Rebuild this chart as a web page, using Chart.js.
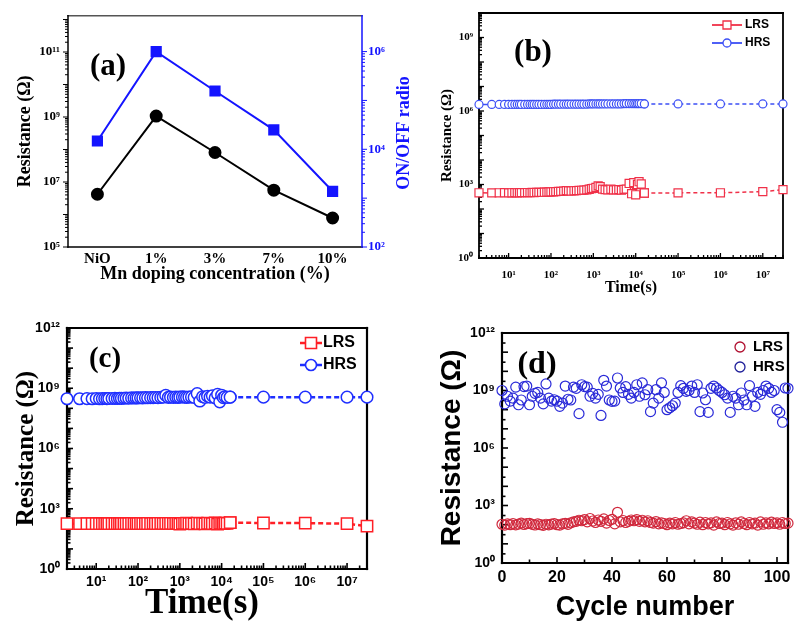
<!DOCTYPE html>
<html><head><meta charset="utf-8">
<script src="https://cdn.jsdelivr.net/npm/chart.js@4.4.1/dist/chart.umd.min.js"></script>
<style>
html,body{margin:0;padding:0;background:#fff;width:797px;height:628px;overflow:hidden;position:relative;}
canvas{position:absolute;}
</style></head><body>
<canvas id="ca" width="420" height="300" style="left:0;top:0"></canvas>
<canvas id="cb" width="377" height="300" style="left:420px;top:0"></canvas>
<canvas id="cc" width="400" height="328" style="left:0;top:300px"></canvas>
<canvas id="cd" width="377" height="328" style="left:420px;top:300px"></canvas>
<script>
// ---------- DATA ----------
// (a)
const concLabels = ['NiO', '1%', '3%', '7%', '10%'];
const resistanceA = [4.2e6, 1.07e9, 8.1e7, 5.6e6, 7.8e5];
const onOffRatioA = [1.48e4, 1.0e6, 1.56e5, 2.5e4, 1.38e3];
const yTicksA = [1e5, 1e7, 1e9, 1e11];
const y1TicksA = [1e2, 1e4, 1e6];

// (b) and (c) retention time (s)
const timeDense = [2,4,6,8,10,12,14,16,18,20,24,28,32,36,40,46,52,60,70,80,90,100,115,130,150,170,200,230,260,300,350,400,460,530,600,700,800,900,1000,1150,1300,1450,1650,1900,2200,2600,3000,3500,4000,4600,5300,6000,7000,8000,9000,10000,11000,12000,13500,16000];
const timeSparse = [16000, 1e5, 1e6, 1e7, 3e7];
const timeTicks = [1e1, 1e2, 1e3, 1e4, 1e5, 1e6, 1e7];

// (b)
const hrsDenseB = [1.85e6,1.85e6,1.85e6,1.85e6,1.85e6,1.85e6,1.85e6,1.85e6,1.85e6,1.85e6,
  1.85e6,1.85e6,1.85e6,1.85e6,1.85e6,1.85e6,1.85e6,1.85e6,1.85e6,1.85e6,
  1.85e6,1.85e6,1.9e6,1.9e6,1.9e6,1.9e6,1.9e6,1.9e6,1.9e6,1.9e6,
  1.9e6,1.9e6,1.9e6,1.9e6,1.9e6,1.9e6,1.95e6,1.95e6,1.95e6,1.95e6,
  1.95e6,1.95e6,1.95e6,1.95e6,1.95e6,1.95e6,1.95e6,1.95e6,1.95e6,1.95e6,
  2.0e6,2.0e6,2.0e6,2.0e6,2.0e6,2.0e6,2.0e6,2.0e6,2.0e6,1.95e6];
const hrsSparseB = [1.95e6, 1.95e6, 1.95e6, 1.95e6, 1.95e6];
const lrsDenseB = [460,455,460,462,458,460,465,460,462,465,
  468,470,465,472,470,475,480,478,485,490,
  495,500,505,510,520,525,540,560,550,545,
  555,560,570,580,590,600,640,680,700,760,
  880,820,650,620,600,640,600,610,620,590,
  630,650,1100,420,1200,380,1000,1300,1050,450];
const lrsSparseB = [450, 455, 460, 510, 620];
const yTicksB = [1, 1e3, 1e6, 1e9];

// (c)
const hrsDenseC = [3.0e8,3.0e8,3.05e8,3.0e8,3.1e8,3.0e8,3.05e8,3.1e8,3.05e8,3.1e8,
  3.1e8,3.15e8,3.1e8,3.2e8,3.15e8,3.2e8,3.25e8,3.2e8,3.3e8,3.25e8,
  3.3e8,3.3e8,3.35e8,3.3e8,3.4e8,3.35e8,3.4e8,3.4e8,3.45e8,3.4e8,
  3.5e8,3.6e8,4.4e8,3.5e8,3.6e8,3.5e8,3.6e8,3.5e8,3.6e8,3.7e8,
  3.6e8,3.5e8,3.6e8,3.7e8,3.5e8,5.4e8,2.3e8,3.8e8,3.5e8,4.0e8,
  3.6e8,4.2e8,3.3e8,5.0e8,2.1e8,4.5e8,3.4e8,3.8e8,3.5e8,3.6e8];
const hrsSparseC = [3.6e8, 3.6e8, 3.6e8, 3.6e8, 3.6e8];
const lrsDenseC = [180,180,182,180,181,180,182,180,181,182,
  182,180,183,181,182,183,181,182,184,182,
  183,182,184,183,182,184,183,185,182,184,
  185,183,186,184,185,183,186,184,170,188,
  185,190,183,186,175,192,184,188,178,190,
  186,182,195,172,190,185,180,192,188,205];
const lrsSparseC = [205, 195, 192, 182, 135];
const yTicksCD = [1, 1e3, 1e6, 1e9, 1e12];

// (d) endurance, cycles 0..104
const hrsD = [1.0e9,2.0e8,5.0e8,2.8e8,4.0e8,1.5e9,1.8e8,3.2e8,1.6e9,1.7e9,
  1.8e8,5.0e8,7.1e8,7.9e8,4.0e8,2.0e8,2.2e9,4.0e8,2.8e8,3.3e8,
  2.8e8,1.5e8,2.2e8,1.7e9,3.5e8,3.2e8,1.5e9,1.3e9,6.2e7,2.0e9,
  1.6e9,1.5e9,5.0e8,7.1e8,4.0e8,6.3e8,5.0e7,3.4e9,1.7e9,3.2e8,
  2.7e8,2.8e8,4.5e9,1.35e9,7.9e8,1.6e9,6.3e8,4.0e8,7.9e8,2.0e9,
  5.0e8,2.5e9,6.0e8,1.1e9,7.9e7,2.2e8,1.1e9,4.0e8,2.5e9,7.9e8,
  1.0e8,1.26e8,1.6e8,2.2e8,7.9e8,1.8e9,1.3e9,9.1e8,1.0e9,1.7e9,
  7.9e8,2.0e9,7.9e7,7.4e8,3.3e8,7.2e7,1.3e9,1.7e9,1.35e9,1.0e9,
  7.9e8,6.0e8,4.0e8,7.2e7,5.0e8,4.0e8,1.8e8,7.4e8,3.2e8,1.8e8,
  1.8e9,5.0e8,1.5e8,7.9e8,6.3e8,1.0e9,1.7e9,1.3e9,7.9e8,1.0e9,
  1.0e8,7.2e7,2.2e7,1.35e9,1.3e9];
const lrsD = [105,95,110,100,115,98,108,120,102,112,
  118,104,96,110,100,92,105,98,108,115,
  100,95,110,118,104,125,140,150,170,160,
  185,140,210,155,130,175,150,200,120,165,
  190,110,440,140,165,130,150,175,160,185,
  150,170,140,160,130,120,145,110,125,115,
  100,120,110,130,105,115,125,160,110,140,
  120,105,135,100,130,110,125,95,140,115,
  120,100,130,110,95,125,105,140,115,100,
  130,110,120,95,140,105,125,110,135,115,
  125,105,130,115,120];
const cycleTicks = [0, 20, 40, 60, 80, 100];

// ---------- HELPERS ----------
Chart.defaults.animation = false;
Chart.defaults.responsive = false;
Chart.defaults.devicePixelRatio = 1;
Chart.defaults.plugins.legend.display = false;
Chart.defaults.plugins.tooltip.enabled = false;
Chart.defaults.color = '#000';

const SUP = {'0':'⁰','1':'¹','2':'²','3':'³','4':'⁴','5':'⁵','6':'⁶','7':'⁷','8':'⁸','9':'⁹','-':'⁻'};
const pow10Label = v => '10' + String(Math.round(Math.log10(v))).split('').map(c => SUP[c]).join('');
const xy = (xs, ys) => xs.map((x, i) => ({x: x, y: ys[i]}));
const setTicks = vals => s => { s.ticks = vals.map(v => ({value: v})); };
function logMarks(minE, maxE) {
  const arr = [];
  for (let e = minE; e < maxE; e++) for (let k = 1; k < 10; k++) arr.push({v: k * Math.pow(10, e), major: k === 1});
  arr.push({v: Math.pow(10, maxE), major: true});
  return arr;
}
const SERIF = 'Liberation Serif', SANS = 'Liberation Sans';
const NOGRID = {display: false, drawTicks: false};

const deco = {
  id: 'deco',
  beforeDatasetsDraw(chart, args, o) {
    const ctx = chart.ctx, a = chart.chartArea;
    ctx.save();
    (o.marks || []).forEach(t => {
      const sc = chart.scales[t.scale];
      ctx.strokeStyle = t.color; ctx.lineWidth = t.width;
      t.values.forEach(tv => {
        const v = tv.v;
        if (v < sc.min - 1e-9 || v > sc.max + 1e-9) return;
        const len = tv.major ? t.major : t.minor;
        const p = sc.getPixelForValue(v);
        ctx.beginPath();
        if (t.side === 'left') { const d = t.inward ? len : -len; ctx.moveTo(a.left, p); ctx.lineTo(a.left + d, p); }
        else if (t.side === 'right') { const d = t.inward ? -len : len; ctx.moveTo(a.right, p); ctx.lineTo(a.right + d, p); }
        else { const d = t.inward ? -len : len; ctx.moveTo(p, a.bottom); ctx.lineTo(p, a.bottom + d); }
        ctx.stroke();
      });
    });
    ctx.lineCap = 'square';
    (o.sides || []).forEach(s => {
      ctx.strokeStyle = s.color; ctx.lineWidth = s.width;
      ctx.beginPath();
      if (s.side === 'left') { ctx.moveTo(a.left, a.top); ctx.lineTo(a.left, a.bottom); }
      if (s.side === 'right') { ctx.moveTo(a.right, a.top); ctx.lineTo(a.right, a.bottom); }
      if (s.side === 'top') { ctx.moveTo(a.left, a.top); ctx.lineTo(a.right, a.top); }
      if (s.side === 'bottom') { ctx.moveTo(a.left, a.bottom); ctx.lineTo(a.right, a.bottom); }
      ctx.stroke();
    });
    ctx.restore();
  },
  afterDatasetsDraw(chart, args, o) {
    const ctx = chart.ctx;
    ctx.save();
    (o.legend || []).forEach(l => {
      ctx.strokeStyle = l.color; ctx.lineWidth = l.lw;
      if (l.lineLen) { ctx.beginPath(); ctx.moveTo(l.x - l.lineLen / 2, l.y); ctx.lineTo(l.x + l.lineLen / 2, l.y); ctx.stroke(); }
      ctx.fillStyle = '#fff';
      ctx.lineWidth = l.mw;
      ctx.beginPath();
      if (l.style === 'rect') { ctx.rect(l.x - l.r, l.y - l.r, 2 * l.r, 2 * l.r); }
      else { ctx.arc(l.x, l.y, l.r, 0, Math.PI * 2); }
      if (l.fill) ctx.fill();
      ctx.stroke();
      ctx.fillStyle = l.textColor; ctx.font = l.font; ctx.textAlign = 'left'; ctx.textBaseline = 'middle';
      ctx.fillText(l.label, l.tx, l.y);
    });
    (o.texts || []).forEach(t => {
      ctx.save();
      ctx.fillStyle = t.color; ctx.font = t.font; ctx.textAlign = 'center'; ctx.textBaseline = 'middle';
      ctx.translate(t.x, t.y); if (t.rot) ctx.rotate(t.rot);
      ctx.fillText(t.text, 0, 0);
      ctx.restore();
    });
    ctx.restore();
  }
};

// ---------- (a) ----------
const blueA = '#1414ff';
new Chart(document.getElementById('ca'), {
  type: 'line',
  data: {
    labels: concLabels,
    datasets: [
      {data: resistanceA, yAxisID: 'y', borderColor: '#000', borderWidth: 2, pointStyle: 'circle', pointRadius: 5.5, pointBackgroundColor: '#000', pointBorderColor: '#000', tension: 0, clip: false},
      {data: onOffRatioA, yAxisID: 'y1', borderColor: blueA, borderWidth: 2, pointStyle: 'rect', pointRadius: 6.5, pointBackgroundColor: blueA, pointBorderColor: blueA, tension: 0, clip: false}
    ]
  },
  options: {
    layout: {padding: {left: 10, top: 10, right: 0, bottom: 0}},
    scales: {
      x: {type: 'category', offset: true, grid: NOGRID, border: {display: false},
        ticks: {font: {family: SERIF, size: 15, weight: 'bold'}, padding: 3},
        title: {display: true, text: 'Mn doping concentration (%)', font: {family: SERIF, size: 18, weight: 'bold'}, padding: {top: 0, bottom: 15}},
        afterFit: s => { s.height = 53; }},
      y: {type: 'logarithmic', position: 'left', min: 1e5, max: 1.3e12, bounds: 'data', grid: NOGRID, border: {display: false},
        afterBuildTicks: setTicks(yTicksA),
        ticks: {autoSkip: false, callback: v => pow10Label(v), font: {family: SERIF, size: 13, weight: 'bold'}, padding: 8},
        title: {display: true, text: 'Resistance (Ω)', font: {family: SERIF, size: 18, weight: 'bold'}, padding: {top: 5, bottom: 0}},
        afterFit: s => { s.width = 58; }},
      y1: {type: 'logarithmic', position: 'right', min: 1e2, max: 5.4e6, bounds: 'data', grid: NOGRID, border: {display: false},
        afterBuildTicks: setTicks(y1TicksA),
        ticks: {autoSkip: false, color: blueA, callback: v => pow10Label(v), font: {family: SERIF, size: 13, weight: 'bold'}, padding: 6},
        afterFit: s => { s.width = 58; }}
    },
    plugins: {
      deco: {
        marks: [
          {scale: 'y', side: 'left', inward: false, values: logMarks(5, 12), major: 5, minor: 3, color: '#000', width: 1},
          {scale: 'y1', side: 'right', inward: false, values: logMarks(2, 6), major: 5, minor: 3, color: blueA, width: 1}
        ],
        sides: [
          {side: 'top', color: '#555', width: 1.5},
          {side: 'left', color: '#000', width: 1.5},
          {side: 'bottom', color: '#000', width: 1.5},
          {side: 'right', color: blueA, width: 1.5}
        ],
        texts: [
          {text: '(a)', x: 108, y: 67, font: 'bold 31px "Liberation Serif"', color: '#000'},
          {text: 'ON/OFF radio', x: 404, y: 133, rot: -Math.PI / 2, font: 'bold 18px "Liberation Serif"', color: blueA}
        ]
      }
    }
  },
  plugins: [deco]
});

// ---------- (b) ----------
const redB = '#f03048', blueB = '#3c4ff5';
new Chart(document.getElementById('cb'), {
  type: 'line',
  data: {
    datasets: [
      {data: xy(timeDense, hrsDenseB), borderColor: blueB, borderWidth: 1.5, pointStyle: 'circle', pointRadius: 4, pointBorderWidth: 1.2, pointBackgroundColor: '#fff', pointBorderColor: blueB, tension: 0, clip: false},
      {data: xy(timeSparse, hrsSparseB), borderColor: blueB, borderWidth: 1.5, borderDash: [4, 3], pointStyle: 'circle', pointRadius: 4, pointBorderWidth: 1.2, pointBackgroundColor: '#fff', pointBorderColor: blueB, tension: 0, clip: false},
      {data: xy(timeDense, lrsDenseB), borderColor: redB, borderWidth: 1.5, pointStyle: 'rect', pointRadius: 5.7, pointBorderWidth: 1.2, pointBackgroundColor: '#fff', pointBorderColor: redB, tension: 0, clip: false},
      {data: xy(timeSparse, lrsSparseB), borderColor: redB, borderWidth: 1.5, borderDash: [4, 3], pointStyle: 'rect', pointRadius: 5.7, pointBorderWidth: 1.2, pointBackgroundColor: '#fff', pointBorderColor: redB, tension: 0, clip: false}
    ]
  },
  options: {
    layout: {padding: {left: 10, top: 13, right: 14, bottom: 0}},
    scales: {
      x: {type: 'logarithmic', min: 2, max: 3e7, bounds: 'data', grid: NOGRID, border: {display: false},
        afterBuildTicks: setTicks(timeTicks),
        ticks: {autoSkip: false, maxRotation: 0, callback: v => pow10Label(v), font: {family: SERIF, size: 11, weight: 'bold'}, padding: 11},
        title: {display: true, text: 'Time(s)', font: {family: SERIF, size: 16, weight: 'bold'}, padding: {top: 0, bottom: 3}},
        afterFit: s => { s.height = 42; }},
      y: {type: 'logarithmic', min: 1, max: 1e10, bounds: 'data', grid: NOGRID, border: {display: false},
        afterBuildTicks: setTicks(yTicksB),
        ticks: {autoSkip: false, callback: v => pow10Label(v), font: {family: SERIF, size: 11, weight: 'bold'}, padding: 6},
        title: {display: true, text: 'Resistance (Ω)', font: {family: SERIF, size: 15, weight: 'bold'}, padding: {top: 8, bottom: 0}},
        afterFit: s => { s.width = 49; }}
    },
    plugins: {
      deco: {
        marks: [
          {scale: 'y', side: 'left', inward: true, values: logMarks(0, 10), major: 5, minor: 3, color: '#000', width: 1.3},
          {scale: 'x', side: 'bottom', inward: true, values: logMarks(0, 8), major: 5, minor: 3, color: '#000', width: 1.3}
        ],
        sides: [
          {side: 'top', color: '#000', width: 1.8}, {side: 'left', color: '#000', width: 1.8},
          {side: 'bottom', color: '#000', width: 1.8}, {side: 'right', color: '#000', width: 1.8}
        ],
        legend: [
          {label: 'LRS', x: 307, y: 25, lineLen: 30, r: 4, style: 'rect', color: redB, lw: 1.8, mw: 1.3, fill: true, tx: 325, textColor: '#000', font: 'bold 12px "Liberation Sans"'},
          {label: 'HRS', x: 307, y: 43, lineLen: 30, r: 4, style: 'circle', color: blueB, lw: 1.8, mw: 1.3, fill: true, tx: 325, textColor: '#000', font: 'bold 12px "Liberation Sans"'}
        ],
        texts: [
          {text: '(b)', x: 113, y: 53, font: 'bold 31px "Liberation Serif"', color: '#000'}
        ]
      }
    }
  },
  plugins: [deco]
});

// ---------- (c) ----------
const redC = '#ff1f26', blueC = '#1f2fff';
new Chart(document.getElementById('cc'), {
  type: 'line',
  data: {
    datasets: [
      {data: xy(timeDense, hrsDenseC), borderColor: blueC, borderWidth: 2.5, pointStyle: 'circle', pointRadius: 5.8, pointBorderWidth: 1.5, pointBackgroundColor: '#fff', pointBorderColor: blueC, tension: 0, clip: false},
      {data: xy(timeSparse, hrsSparseC), borderColor: blueC, borderWidth: 2.5, borderDash: [5, 3], pointStyle: 'circle', pointRadius: 5.8, pointBorderWidth: 1.5, pointBackgroundColor: '#fff', pointBorderColor: blueC, tension: 0, clip: false},
      {data: xy(timeDense, lrsDenseC), borderColor: redC, borderWidth: 2.5, pointStyle: 'rect', pointRadius: 8, pointBorderWidth: 1.5, pointBackgroundColor: '#fff', pointBorderColor: redC, tension: 0, clip: false},
      {data: xy(timeSparse, lrsSparseC), borderColor: redC, borderWidth: 2.5, borderDash: [5, 3], pointStyle: 'rect', pointRadius: 8, pointBorderWidth: 1.5, pointBackgroundColor: '#fff', pointBorderColor: redC, tension: 0, clip: false}
    ]
  },
  options: {
    layout: {padding: {left: 8, top: 28, right: 33, bottom: 0}},
    scales: {
      x: {type: 'logarithmic', min: 2, max: 3e7, bounds: 'data', grid: NOGRID, border: {display: false},
        afterBuildTicks: setTicks(timeTicks),
        ticks: {autoSkip: false, maxRotation: 0, callback: v => pow10Label(v), font: {family: SANS, size: 14, weight: 'bold'}, padding: 5},
        title: {display: false, text: 'Time(s)'},
        afterFit: s => { s.height = 59; }},
      y: {type: 'logarithmic', min: 1, max: 1e12, bounds: 'data', grid: NOGRID, border: {display: false},
        afterBuildTicks: setTicks(yTicksCD),
        ticks: {autoSkip: false, callback: v => pow10Label(v), font: {family: SANS, size: 14, weight: 'bold'}, padding: 7},
        title: {display: true, text: 'Resistance (Ω)', font: {family: SERIF, size: 25, weight: 'bold'}, padding: {top: 4, bottom: 0}},
        afterFit: s => { s.width = 59; }}
    },
    plugins: {
      deco: {
        marks: [
          {scale: 'y', side: 'left', inward: true, values: logMarks(0, 12), major: 6, minor: 3.5, color: '#000', width: 1.6},
          {scale: 'x', side: 'bottom', inward: true, values: logMarks(0, 8), major: 6, minor: 3.5, color: '#000', width: 1.6}
        ],
        sides: [
          {side: 'top', color: '#000', width: 2.2}, {side: 'left', color: '#000', width: 2.2},
          {side: 'bottom', color: '#000', width: 2.2}, {side: 'right', color: '#000', width: 2.2}
        ],
        legend: [
          {label: 'LRS', x: 311, y: 43, lineLen: 22, r: 5.5, style: 'rect', color: redC, lw: 2.5, mw: 1.6, fill: true, tx: 323, textColor: '#000', font: 'bold 16px "Liberation Sans"'},
          {label: 'HRS', x: 311, y: 65, lineLen: 22, r: 5.5, style: 'circle', color: blueC, lw: 2.5, mw: 1.6, fill: true, tx: 323, textColor: '#000', font: 'bold 16px "Liberation Sans"'}
        ],
        texts: [
          {text: '(c)', x: 105, y: 60, font: 'bold 29px "Liberation Serif"', color: '#000'},
          {text: 'Time(s)', x: 202, y: 304, font: 'bold 35px "Liberation Serif"', color: '#000'}
        ]
      }
    }
  },
  plugins: [deco]
});

// ---------- (d) ----------
const redD = '#d0283c', blueD = '#2a2ad8';
new Chart(document.getElementById('cd'), {
  type: 'scatter',
  data: {
    datasets: [
      {data: hrsD.map((v, i) => ({x: i, y: v})), showLine: false, pointStyle: 'circle', pointRadius: 5, pointBorderWidth: 1.2, pointBackgroundColor: 'rgba(255,255,255,0)', pointBorderColor: blueD, clip: false},
      {data: lrsD.map((v, i) => ({x: i, y: v})), showLine: false, pointStyle: 'circle', pointRadius: 5, pointBorderWidth: 1.2, pointBackgroundColor: 'rgba(255,255,255,0)', pointBorderColor: redD, clip: false}
    ]
  },
  options: {
    layout: {padding: {left: 10, top: 33, right: 9, bottom: 0}},
    scales: {
      x: {type: 'linear', min: 0, max: 104, grid: NOGRID, border: {display: false},
        afterBuildTicks: setTicks(cycleTicks),
        ticks: {autoSkip: false, maxRotation: 0, font: {family: SANS, size: 16, weight: 'bold'}, padding: 5},
        title: {display: true, text: 'Cycle number', font: {family: SANS, size: 27, weight: 'bold'}, padding: {top: 0, bottom: 4}},
        afterFit: s => { s.height = 65; }},
      y: {type: 'logarithmic', min: 1, max: 1e12, bounds: 'data', grid: NOGRID, border: {display: false},
        afterBuildTicks: setTicks(yTicksCD),
        ticks: {autoSkip: false, callback: v => pow10Label(v), font: {family: SANS, size: 14, weight: 'bold'}, padding: 7},
        title: {display: true, text: 'Resistance (Ω)', font: {family: SANS, size: 28, weight: 'bold'}, padding: {top: 5, bottom: 0}},
        afterFit: s => { s.width = 72; }}
    },
    plugins: {
      deco: {
        marks: [
          {scale: 'y', side: 'left', inward: true, values: logMarks(0, 12).filter(m => m.major || m.v / Math.pow(10, Math.floor(Math.log10(m.v) + 1e-9)) === 3), major: 6, minor: 3.5, color: '#000', width: 1.6},
          {scale: 'x', side: 'bottom', inward: true, values: [0,10,20,30,40,50,60,70,80,90,100].map(v => ({v: v, major: v % 20 === 0})), major: 6, minor: 3.5, color: '#000', width: 1.6}
        ],
        sides: [
          {side: 'top', color: '#000', width: 2.2}, {side: 'left', color: '#000', width: 2.2},
          {side: 'bottom', color: '#000', width: 2.2}, {side: 'right', color: '#000', width: 2.2}
        ],
        legend: [
          {label: 'LRS', x: 320, y: 47, lineLen: 0, r: 5, style: 'circle', color: '#b01030', lw: 1.3, mw: 1.3, fill: false, tx: 333, textColor: '#000', font: 'bold 15px "Liberation Sans"'},
          {label: 'HRS', x: 320, y: 67, lineLen: 0, r: 5, style: 'circle', color: '#20209a', lw: 1.3, mw: 1.3, fill: false, tx: 333, textColor: '#000', font: 'bold 15px "Liberation Sans"'}
        ],
        texts: [
          {text: '(d)', x: 117, y: 65, font: 'bold 32px "Liberation Serif"', color: '#000'}
        ]
      }
    }
  },
  plugins: [deco]
});
</script>
</body></html>
